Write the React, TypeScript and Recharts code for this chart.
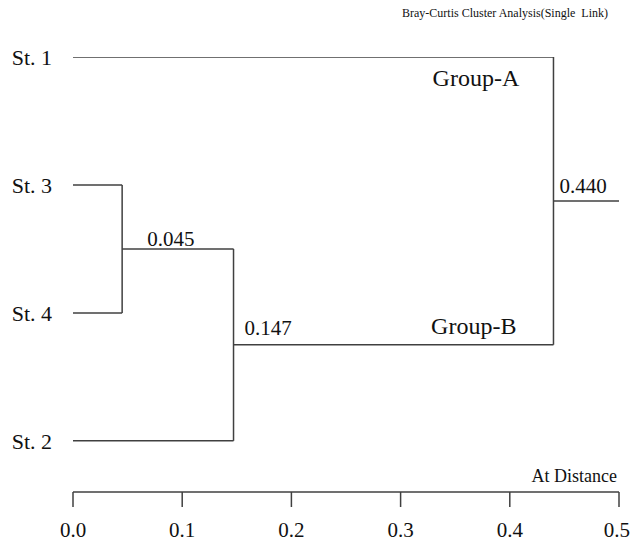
import { ComposedChart, Line, XAxis, YAxis, Scatter, Label } from 'recharts';

// leaves from top to bottom
const leafNames = ['St. 1', 'St. 3', 'St. 4', 'St. 2'];
// [left node, right node, distance]; nodes 0-3 are leaves, 4+ are the earlier merges
const merges: [number, number, number][] = [
  [1, 2, 0.045],
  [4, 3, 0.147],
  [0, 5, 0.44],
];
const distanceTicks = [0, 0.1, 0.2, 0.3, 0.4, 0.5];
const groupNames = ['Group-A', 'Group-B'];
const groupX = [0.369, 0.367];
const groupY = [2.836, 0.898];

const AXIS_MAX = 0.5;
const INK = '#111';
const LINE = '#404040';
const FONT = '"Liberation Serif", "Times New Roman", serif';
const serif = (size: number) => ({ fontFamily: FONT, fontSize: size });
// where each distance label sits relative to its join point (px)
const MERGE_LABEL_OFFSET = [
  [25, -3],
  [11, -10],
  [6, -8],
];

type Pt = { x: number; y: number };

const nodes: Pt[] = leafNames.map((_, i) => ({ x: 0, y: leafNames.length - 1 - i }));
const segments: Pt[][] = [];
merges.forEach(([a, b, d]) => {
  const A = nodes[a];
  const B = nodes[b];
  segments.push([{ x: A.x, y: A.y }, { x: d, y: A.y }]);
  segments.push([{ x: B.x, y: B.y }, { x: d, y: B.y }]);
  segments.push([{ x: d, y: A.y }, { x: d, y: B.y }]);
  nodes.push({ x: d, y: (A.y + B.y) / 2 });
});
const root = nodes[nodes.length - 1];
segments.push([{ x: root.x, y: root.y }, { x: AXIS_MAX, y: root.y }]);

const mergePoints = nodes.slice(leafNames.length).map((n, i) => ({
  ...n,
  i,
  label: merges[i][2].toFixed(3),
}));
const groupPoints = groupNames.map((name, i) => ({ x: groupX[i], y: groupY[i], name }));

function MergeLabel(props: any) {
  const { cx, cy, payload } = props;
  const [dx, dy] = MERGE_LABEL_OFFSET[payload.i];
  return (
    <text x={cx + dx} y={cy + dy} fill={INK} style={serif(21)}>
      {payload.label}
    </text>
  );
}

function GroupLabel(props: any) {
  const { cx, cy, payload } = props;
  return (
    <text x={cx} y={cy} dy="0.35em" textAnchor="middle" fill={INK} style={serif(24)}>
      {payload.name}
    </text>
  );
}

export default function App() {
  return (
    <div style={{ position: 'relative', width: 630, height: 542, background: '#fff', fontFamily: FONT }}>
      <style>{'body{margin:0}'}</style>
      <div
        style={{
          position: 'absolute',
          right: 22,
          top: 6,
          fontSize: 12,
          color: INK,
          whiteSpace: 'pre',
        }}
      >
        {'Bray-Curtis Cluster Analysis(Single  Link)'}
      </div>
      <ComposedChart width={630} height={542} margin={{ top: 57, right: 11, left: 0, bottom: 0 }}>
        <XAxis
          type="number"
          dataKey="x"
          domain={[0, AXIS_MAX]}
          ticks={distanceTicks}
          tickFormatter={(v: number) => v.toFixed(1)}
          tickSize={15}
          tickMargin={15}
          height={50}
          stroke={LINE}
          strokeWidth={1.5}
          tick={{ fill: INK, style: serif(21) }}
          allowDataOverflow
        >
          <Label
            content={({ viewBox }: any) => (
              <text
                x={viewBox.x + viewBox.width - 2}
                y={viewBox.y - 10}
                textAnchor="end"
                fill={INK}
                style={serif(18)}
              >
                At Distance
              </text>
            )}
          />
        </XAxis>
        <YAxis
          type="number"
          dataKey="y"
          domain={[-0.4, leafNames.length - 1]}
          ticks={leafNames.map((_, i) => i)}
          tickFormatter={(v: number) => leafNames[leafNames.length - 1 - v]}
          width={73}
          axisLine={false}
          tickLine={false}
          tickSize={0}
          tickMargin={21}
          tick={{ fill: INK, style: serif(22) }}
          allowDataOverflow
        />
        {segments.map((seg, k) => (
          <Line
            key={k}
            data={seg}
            dataKey="y"
            stroke={LINE}
            strokeWidth={1.5}
            dot={false}
            activeDot={false}
            isAnimationActive={false}
          />
        ))}
        <Scatter data={mergePoints} dataKey="y" shape={<MergeLabel />} isAnimationActive={false} />
        <Scatter data={groupPoints} dataKey="y" shape={<GroupLabel />} isAnimationActive={false} />
      </ComposedChart>
    </div>
  );
}
